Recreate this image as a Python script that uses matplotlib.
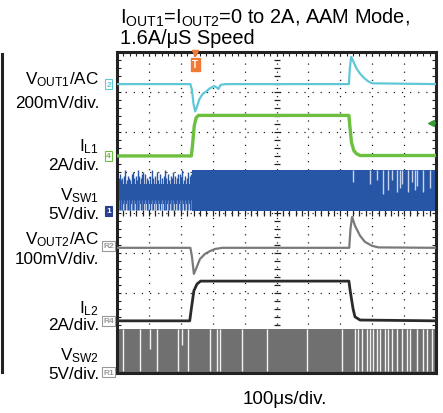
import numpy as np
import matplotlib
matplotlib.use("Agg")
import matplotlib.pyplot as plt

plt.rcParams['font.family'] = ['Liberation Sans', 'DejaVu Sans']
plt.rcParams['mathtext.fontset'] = 'custom'
plt.rcParams['mathtext.rm'] = 'Liberation Sans'
plt.rcParams['mathtext.it'] = 'Liberation Sans'

# time in us (100us/div, 10 div), level in screen divisions (8 div)
vout1_t = [0, 230, 235, 240, 245, 250, 258, 268, 280, 292, 305, 312, 318, 325, 340, 727, 730, 734, 740, 750, 762, 775, 787, 800, 1000]
vout1_v = [7.2, 7.2, 7.05, 6.7, 6.52, 6.62, 6.82, 6.95, 7.02, 7.1, 7.15, 7.12, 7.08, 7.18, 7.2, 7.2, 7.6, 7.88, 7.78, 7.6, 7.46, 7.35, 7.27, 7.22, 7.2]

il1_t = [0, 233, 237, 242, 248, 255, 727, 730, 735, 742, 750, 762, 1000]
il1_v = [5.41, 5.41, 5.7, 6.15, 6.36, 6.42, 6.42, 6.15, 5.75, 5.55, 5.47, 5.42, 5.42]

vout2_t = [0, 230, 235, 241, 248, 260, 276, 292, 307, 330, 728, 732, 737, 746, 762, 777, 799, 820, 1000]
vout2_v = [3.12, 3.12, 2.9, 2.47, 2.6, 2.84, 2.97, 3.04, 3.09, 3.12, 3.12, 3.6, 3.89, 3.67, 3.42, 3.27, 3.17, 3.13, 3.12]

il2_t = [0, 228, 233, 241, 251, 262, 727, 731, 735, 740, 746, 762, 1000]
il2_v = [1.3, 1.3, 1.6, 2.05, 2.22, 2.29, 2.29, 2.05, 1.85, 1.6, 1.4, 1.32, 1.3]

# VSW1: light-load pulses before the step, full switching after
vsw1_low, vsw1_high = 4.04, 5.07
vsw1_step = 235
vsw1_spike_t = [5, 9, 13, 17, 21, 25, 30, 34, 38, 42, 46, 50, 54, 58, 62, 66, 70, 75, 79, 82, 88, 93, 98, 104, 110, 114, 118, 125, 130, 135, 142, 146, 150, 155, 160, 164, 168, 172, 176, 182, 188, 192, 196, 200, 204, 209, 213, 218, 223, 228, 232]
vsw1_spike_top = [4.85, 4.95, 4.8, 4.85, 4.9, 5.05, 4.8, 4.9, 4.85, 4.8, 4.95, 5.0, 4.85, 4.9, 4.8, 5.05, 4.9, 4.85, 4.95, 5.0, 4.95, 4.85, 4.8, 4.9, 5.05, 4.85, 4.9, 5.0, 4.8, 4.95, 4.85, 4.9, 5.05, 4.85, 4.95, 4.8, 4.9, 4.85, 5.0, 4.9, 4.85, 4.95, 4.95, 4.85, 5.05, 4.8, 4.9, 4.85, 5.0, 4.9, 4.95]
vsw1_gap_t = [740, 793, 815, 834, 850, 862, 878, 887, 893, 912, 925, 934, 940, 959, 981]
vsw1_gap_bot = [4.75, 4.7, 4.8, 4.45, 4.55, 4.8, 4.5, 4.6, 4.7, 4.5, 4.75, 4.55, 4.65, 4.5, 4.6]

# VSW2: always switching, with skipped pulses (gaps)
vsw2_low, vsw2_high = 0.02, 1.1
vsw2_gap_t = [19, 72, 103, 125, 191, 204, 223, 292, 313, 323, 392, 470, 596, 705, 746, 755, 768, 784, 793, 803, 815, 824, 840, 850, 862, 878, 893, 909, 918, 940, 959, 972, 987]
vsw2_gap_bot = [0.05, 0.05, 0.6, 0.05, 0.05, 0.7, 0.05, 0.05, 0.05, 0.05, 0.05, 0.05, 0.05, 0.05, 0.05, 0.05, 0.05, 0.05, 0.05, 0.05, 0.05, 0.05, 0.05, 0.05, 0.05, 0.05, 0.05, 0.05, 0.05, 0.05, 0.05, 0.05, 0.05]

cyan = '#5ec8d8'
green = '#6cbf3f'
blue = '#2756a6'
gray = '#7a7a7a'
dark = '#2b2b2b'

fig = plt.figure(figsize=(4.43, 4.14), dpi=100)
ax = fig.add_axes([117 / 443, 1 - 374 / 414, 319 / 443, 321 / 414])
ax.set_xlim(0, 1000)
ax.set_ylim(0, 8)

# graticule
for x in range(100, 1000, 100):
    ax.axvline(x, color='#222', lw=0.9, ls=(0, (1, 5.5)), zorder=1)
for y in range(1, 8):
    ax.axhline(y, color='#222', lw=0.9, ls=(0, (1, 5.5)), zorder=1)
ax.plot([500] * 41, np.linspace(0, 8, 41), ls='none', marker='_', ms=5, color='#222', mew=0.9, zorder=1)
ax.plot(np.linspace(0, 1000, 51), [4] * 51, ls='none', marker='|', ms=5, color='#222', mew=0.9, zorder=1)
ax.set_xticks([])
ax.set_yticks([])
ax.set_xticks(np.arange(0, 1001, 20), minor=True)
ax.set_yticks(np.arange(0, 8.01, 0.2), minor=True)
ax.tick_params(which='minor', direction='in', length=3, width=0.8, color='#222',
               top=True, right=True, labelbottom=False, labelleft=False)
for s in ax.spines.values():
    s.set_linewidth(2.2)
    s.set_color('#222')

# VSW2
ax.fill_between([0, 1000], vsw2_low, vsw2_high, color='#707070', lw=0, zorder=2)
ax.vlines(vsw2_gap_t, vsw2_gap_bot, vsw2_high, color='#f2f2f2', lw=1.0, zorder=3)

# VSW1
ax.fill_between([0, vsw1_step], 4.2, 4.72, color=blue, lw=0, zorder=2)
ax.vlines(vsw1_spike_t, 4.3, vsw1_spike_top, color=blue, lw=1.0, zorder=2)
ax.vlines(vsw1_spike_t[::2], vsw1_low + 0.02, 4.3, color='#6d8fcf', lw=1.0, zorder=2)
ax.vlines(vsw1_spike_t[1::2], vsw1_low + 0.02, 4.3, color=blue, lw=1.0, zorder=2)
ax.fill_between([vsw1_step, 1000], vsw1_low, vsw1_high, color=blue, lw=0, zorder=2)
ax.vlines(vsw1_gap_t, vsw1_gap_bot, vsw1_high, color='#c5d3ee', lw=1.0, zorder=3)

# analog traces
ax.plot(vout1_t, vout1_v, color=cyan, lw=1.6, zorder=4)
ax.plot(il1_t, il1_v, color=green, lw=2.4, zorder=4)
ax.plot(vout2_t, vout2_v, color=gray, lw=1.6, zorder=4)
ax.plot(il2_t, il2_v, color=dark, lw=2.0, zorder=4)

# channel markers
markers = [('2', 7.2, cyan, 'white', cyan),
           ('4', 5.41, green, 'white', green),
           ('1', 4.04, 'white', '#2a3f8f', '#2a3f8f'),
           ('R2', 3.17, '#999', 'white', '#999'),
           ('R4', 1.3, '#999', 'white', '#999'),
           ('R1', 0.02, '#999', 'white', '#999')]
for txt, lvl, tc, fc, ec in markers:
    ax.annotate(txt, xy=(0, lvl), xytext=(-6, 0), textcoords='offset points',
                ha='center', va='center', fontsize=6, color=tc, fontweight='bold',
                bbox=dict(boxstyle='square,pad=0.15', fc=fc, ec=ec, lw=0.8),
                annotation_clip=False, zorder=5)

# trigger marker and level
ax.annotate('T', xy=(245, 8), xytext=(0, -9), textcoords='offset points',
            ha='center', va='center', fontsize=7, color='white', fontweight='bold',
            bbox=dict(boxstyle='square,pad=0.15', fc='#f07a35', ec='#f07a35'),
            annotation_clip=False, zorder=6)
ax.plot([245], [7.97], marker='v', ms=5, color='#f07a35', zorder=6, clip_on=False)
ax.plot([985], [6.23], marker='<', ms=5, color='#3a9a3a', zorder=6)
ax.plot([985, 1000], [6.23, 6.23], color='#3a9a3a', lw=1.2, zorder=6)

# left-hand labels
def lab(y_px, s):
    fig.text(99 / 443, 1 - y_px / 414, s, ha='right', va='center', fontsize=12.3)

lab(80, r'V$_{\rm OUT1}$/AC')
lab(103, '200mV/div.')
lab(147, r'I$_{\rm L1}$')
lab(166, '2A/div.')
lab(196, r'V$_{\rm SW1}$')
lab(215, '5V/div.')
lab(240, r'V$_{\rm OUT2}$/AC')
lab(259, '100mV/div.')
lab(309, r'I$_{\rm L2}$')
lab(326, '2A/div.')
lab(356, r'V$_{\rm SW2}$')
lab(375, '5V/div.')

fig.add_artist(plt.Line2D([1.5 / 443, 1.5 / 443], [1 - 55 / 414, 1 - 373 / 414], color='#222', lw=2.2))

fig.text(120 / 443, 1 - 18 / 414, r'I$_{\rm OUT1}$=I$_{\rm OUT2}$=0 to 2A, AAM Mode,', ha='left', va='center', fontsize=14.4)
fig.text(120 / 443, 1 - 38 / 414, '1.6A/\u03bcS Speed', ha='left', va='center', fontsize=14.4)
fig.text(285 / 443, 1 - 400 / 414, '100\u03bcs/div.', ha='center', va='center', fontsize=13.5)

fig.savefig('out.png', dpi=100)
